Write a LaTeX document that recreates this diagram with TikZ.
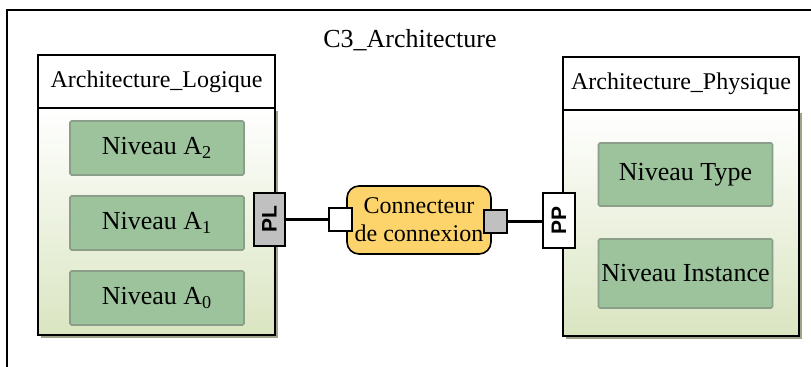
\documentclass[tikz,border=0pt]{standalone}
\usepackage{fontspec}
\setmainfont{Liberation Serif}
\newfontfamily\portfont{Liberation Sans}
\usetikzlibrary{shadows}
\definecolor{lvlgreen}{HTML}{9CC39B}
\definecolor{lvledge}{HTML}{8A9E8A}
\definecolor{bodygreen}{HTML}{DAE5C1}
\definecolor{shadowc}{HTML}{9FA58A}
\definecolor{connyellow}{HTML}{FDD46C}
\definecolor{portgray}{HTML}{C0C0C0}

\begin{document}
\begin{tikzpicture}[x=0.5pt,y=-0.5pt]
  \tikzset{hd/.style={draw=black, line width=1pt, fill=white, inner sep=0pt, font=\fontsize{12}{14}\selectfont},
    bdy/.style={draw=black, line width=1pt, top color=white, bottom color=bodygreen, inner sep=0pt,
      general shadow={fill=shadowc, shadow xshift=1.5pt, shadow yshift=-1.5pt}},
    lvl/.style={draw=lvledge, line width=0.8pt, fill=lvlgreen, rounded corners=0.8pt, inner sep=0pt, minimum width=87pt, font=\fontsize{13}{15}\selectfont},
    port/.style={draw=black, line width=0.8pt, inner sep=0pt, rotate=90, font=\portfont\bfseries\fontsize{10.5}{12}\selectfont},
    pin/.style={draw=black, line width=0.8pt, inner sep=0pt, minimum size=11.5pt}}
\useasboundingbox (0,0) rectangle (811,367);
\draw[line width=1pt] (7,367) -- (7,10) -- (811,10);
\node[font=\fontsize{13}{15}\selectfont] (title) at (410,40) {C3\_Architecture};
% logique
\node[bdy, minimum width=118.5pt, minimum height=113.5pt] (lbody) at (156.5,221.5) {};
\node[hd, minimum width=118.5pt, minimum height=26.5pt] (lhead) at (156.5,81.5) {Architecture\_Logique};
\node[lvl, minimum height=27pt] (a2) at (157,148) {Niveau A\textsubscript{2}};
\node[lvl, minimum height=27pt] (a1) at (157,223) {Niveau A\textsubscript{1}};
\node[lvl, minimum height=27pt] (a0) at (157,298) {Niveau A\textsubscript{0}};
\node[port, fill=portgray, minimum width=26.5pt, minimum height=15.5pt] (pl) at (269.5,219.5) {PL};
% physique
\node[bdy, minimum width=118pt, minimum height=113pt] (pbody) at (681,223) {};
\node[hd, minimum width=118pt, minimum height=26.5pt] (phead) at (681,83.5) {Architecture\_Physique};
\node[lvl, minimum height=31.5pt] (type) at (685.5,174.5) {Niveau Type};
\node[lvl, minimum height=34.5pt] (inst) at (685.5,273.5) {Niveau Instance};
\node[port, fill=white, minimum width=27.5pt, minimum height=16pt] (pp) at (559,220.5) {PP};
% connecteur
\node[draw=black, line width=0.8pt, fill=connyellow, rounded corners=6pt, minimum width=72pt, minimum height=34pt, inner sep=0pt, align=center, font=\fontsize{12}{14}\selectfont] (conn) at (419,220) {Connecteur\\de connexion};
\node[pin, fill=white] (pin1) at (340.5,219.5) {};
\node[pin, fill=portgray] (pin2) at (495.5,221.5) {};
\draw[line width=1.5pt] (pl.south) -- (pin1.west);
\draw[line width=1.5pt] (pin2.east) -- (pp.north |- pin2.east);
\end{tikzpicture}
\end{document}
